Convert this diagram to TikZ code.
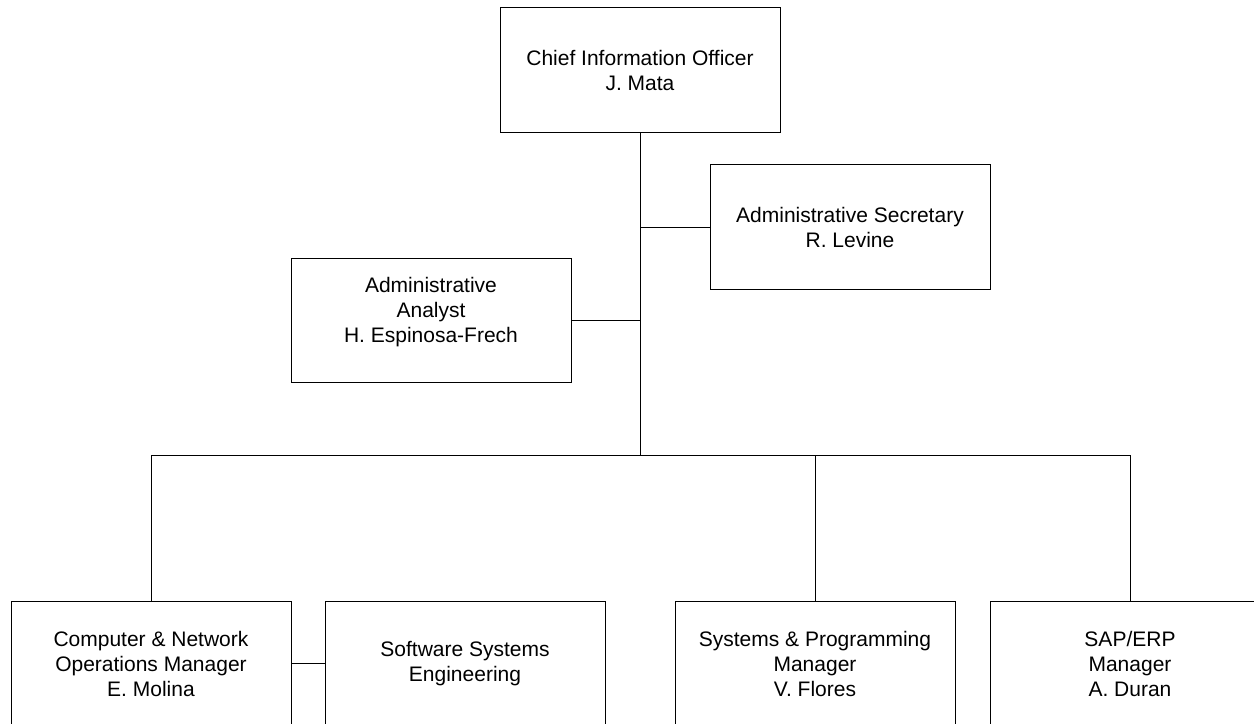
\documentclass[tikz,border=0pt]{standalone}
\usepackage{fontspec}
\setmainfont{Liberation Sans}
\begin{document}
\begin{tikzpicture}[x=0.75pt,y=-0.75pt,
  boxtext/.style={align=center, inner sep=0pt,
    font=\fontsize{15.75pt}{18.75pt}\selectfont},
  box/.style={boxtext, draw=black, line width=0.75pt, rectangle,
    minimum width=210pt, minimum height=93.5pt},
  link/.style={draw=black, line width=0.75pt}]
\useasboundingbox (0,0) rectangle (1254,724);
\clip (0,0) rectangle (1254,724);

% top level and staff positions
\node[box] (cio) at (640,70) {Chief Information Officer\\J. Mata};
\node[box] (sec) at (850,227) {Administrative Secretary\\R. Levine};
\node[box, label={[boxtext, yshift=6pt]center:{Administrative\\Analyst\\H. Espinosa-Frech}}]
  (ana) at (431,320.5) {};

% managers
\node[box] (cnm) at (151,663.5) {Computer \& Network\\Operations Manager\\E. Molina};
\node[box] (sse) at (465,663.5) {Software Systems\\Engineering};
\node[box] (spm) at (815,663.5) {Systems \& Programming\\Manager\\V. Flores};
\node[box] (sap) at (1130,663.5) {SAP/ERP\\Manager\\A. Duran};

% reporting lines
\coordinate (bus) at (640,455);
\draw[link] (cio.south) -- (bus);
\draw[link] (sec.west) -- (sec.west -| cio.south);
\draw[link] (ana.east) -- (ana.east -| cio.south);
\draw[link] (cnm.north) |- (sap.north |- bus) -- (sap.north);
\draw[link] (spm.north) -- (spm.north |- bus);
\draw[link] (cnm.east) -- (sse.west);
\end{tikzpicture}
\end{document}
